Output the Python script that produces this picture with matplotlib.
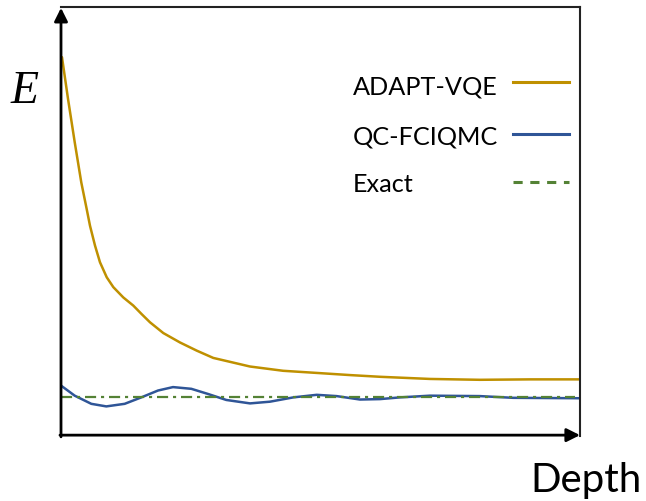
import matplotlib
matplotlib.use("Agg")
import matplotlib.pyplot as plt
from matplotlib.lines import Line2D

# ---- data (arbitrary units) ----
adapt_depth = [0.19, 1.35, 2.64, 3.91, 4.95, 5.59, 6.55, 7.51, 8.81, 10.08, 12.0,
               13.93, 15.55, 17.15, 19.71, 22.93, 26.15, 29.34, 36.4, 42.8, 49.3,
               55.7, 61.5, 71.1, 80.7, 90.4, 100.0]
adapt_E = [88.3, 78.6, 68.5, 59.1, 52.9, 49.0, 44.4, 40.5, 37.0, 34.7, 32.3,
           30.4, 28.4, 26.5, 24.0, 21.8, 19.9, 18.2, 16.2, 15.2, 14.7,
           14.2, 13.8, 13.3, 13.1, 13.2, 13.2]

qc_depth = [0.06, 2.64, 5.84, 8.73, 12.27, 15.47, 18.69, 21.58, 25.11, 28.32, 31.85,
            36.42, 40.27, 44.76, 49.27, 53.12, 57.61, 61.46, 65.32, 71.1, 80.7,
            87.1, 100.0]
qc_E = [11.7, 9.4, 7.5, 6.9, 7.5, 9.0, 10.6, 11.4, 11.0, 9.8, 8.4,
        7.6, 8.0, 9.0, 9.6, 9.3, 8.5, 8.6, 9.0, 9.4, 9.3,
        8.9, 8.8]

exact_depth = [0.0, 99.0]
exact_E = [9.15, 9.15]

labels = ["ADAPT-VQE", "QC-FCIQMC", "Exact"]
c_adapt = "#BF9000"
c_qc = "#2F5597"
c_exact = "#548235"

W, H = 646, 502
fig = plt.figure(figsize=(W / 100, H / 100), dpi=100)
ax = fig.add_axes([61 / W, 1 - 437 / H, (580 - 61) / W, (437 - 8) / H])
ax.set_xlim(0, 100)
ax.set_ylim(0, 100)

ax.plot(adapt_depth, adapt_E, color=c_adapt, lw=1.8, solid_capstyle="round",
        solid_joinstyle="round")
ax.plot(qc_depth, qc_E, color=c_qc, lw=1.8, solid_capstyle="round",
        solid_joinstyle="round")
ax.plot(exact_depth, exact_E, color=c_exact, lw=1.6, linestyle=(0, (5, 2.2, 1.4, 2.2)))

ax.set_xticks([])
ax.set_yticks([])
for s in ["left", "bottom"]:
    ax.spines[s].set_visible(False)
for s in ["top", "right"]:
    ax.spines[s].set_linewidth(1.5)
    ax.spines[s].set_color("#222222")

# arrow axes
ax.annotate("", xy=(0, 0.998), xytext=(0, -0.002), xycoords="axes fraction",
            arrowprops=dict(arrowstyle="-|>", lw=2, color="black", mutation_scale=20,
                            shrinkA=0, shrinkB=0), annotation_clip=False)
ax.annotate("", xy=(1.0, 0.002), xytext=(-0.002, 0.002), xycoords="axes fraction",
            arrowprops=dict(arrowstyle="-|>", lw=2, color="black", mutation_scale=20,
                            shrinkA=0, shrinkB=0), annotation_clip=False)

# legend (drawn manually: text left-aligned, key line on the right)
text_base_y = [95, 145, 191.5]
line_y = [83, 135, 183]
styles = [dict(color=c_adapt, lw=2.2),
          dict(color=c_qc, lw=2.2),
          dict(color=c_exact, lw=2.2, linestyle=(0, (3, 2.5)))]
for lab, ty, ly, st in zip(labels, text_base_y, line_y, styles):
    fig.text(353 / W, 1 - ty / H, lab, family="Lato", fontsize=18.2,
             ha="left", va="baseline")
    fig.add_artist(Line2D([513 / W, 569 / W], [1 - ly / H, 1 - ly / H], **st))

fig.text(25 / W, 1 - 92 / H, "E", family="Liberation Serif", style="italic",
         fontsize=33, ha="center", va="center")
fig.text(586 / W, 1 - 481 / H, "Depth", family="Lato", fontsize=29,
         ha="center", va="center")

fig.savefig("out.png", dpi=100)
